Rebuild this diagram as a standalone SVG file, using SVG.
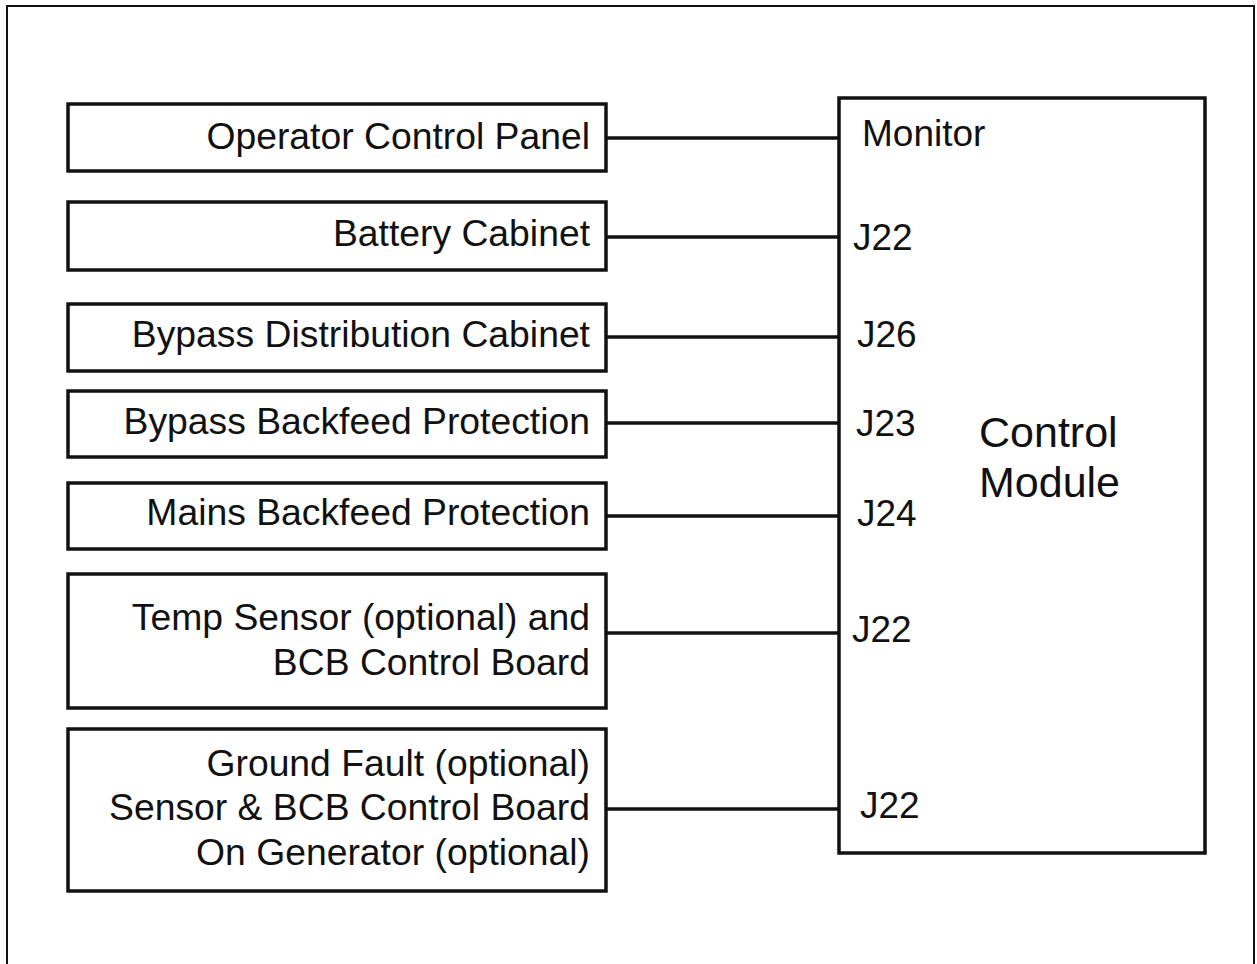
<svg xmlns="http://www.w3.org/2000/svg" width="1257" height="964" viewBox="0 0 1257 964">
<style>
.box{fill:#fff;stroke:#111;stroke-width:3.5}
.wire{stroke:#111;stroke-width:3.5;fill:none}
.t{font-family:"Liberation Sans",Arial,sans-serif;font-size:37.3px;fill:#111}
.r{text-anchor:end}
.j{font-size:37px}
.big{font-size:43px}
</style>
<rect width="1257" height="964" fill="#fff"/>
<path d="M7,970 V6 H1254 V970" fill="none" stroke="#111" stroke-width="2"/>
<g id="connectors">
<line class="wire" x1="606" y1="138" x2="838" y2="138"/>
<line class="wire" x1="606" y1="237" x2="838" y2="237"/>
<line class="wire" x1="606" y1="337" x2="838" y2="337"/>
<line class="wire" x1="606" y1="423" x2="838" y2="423"/>
<line class="wire" x1="606" y1="516" x2="838" y2="516"/>
<line class="wire" x1="606" y1="633" x2="838" y2="633"/>
<line class="wire" x1="606" y1="809" x2="838" y2="809"/>
</g>
<g id="control-module">
<rect class="box" x="839" y="98" width="366" height="755"/>
<text class="t j" x="862" y="146">Monitor</text>
<text class="t j" x="853" y="250">J22</text>
<text class="t j" x="857" y="347">J26</text>
<text class="t j" x="856" y="436">J23</text>
<text class="t j" x="857" y="526">J24</text>
<text class="t j" x="852" y="642">J22</text>
<text class="t j" x="860" y="818">J22</text>
<text class="t big" x="979" y="447">Control</text>
<text class="t big" x="979" y="497">Module</text>
</g>
<g id="operator-control-panel">
<rect class="box" x="68" y="104" width="538" height="67"/>
<text class="t r" x="590" y="149">Operator Control Panel</text>
</g>
<g id="battery-cabinet">
<rect class="box" x="68" y="202" width="538" height="68"/>
<text class="t r" x="590" y="246">Battery Cabinet</text>
</g>
<g id="bypass-distribution-cabinet">
<rect class="box" x="68" y="304" width="538" height="67"/>
<text class="t r" x="590" y="347">Bypass Distribution Cabinet</text>
</g>
<g id="bypass-backfeed-protection">
<rect class="box" x="68" y="391" width="538" height="66"/>
<text class="t r" x="590" y="434">Bypass Backfeed Protection</text>
</g>
<g id="mains-backfeed-protection">
<rect class="box" x="68" y="483" width="538" height="66"/>
<text class="t r" x="590" y="525">Mains Backfeed Protection</text>
</g>
<g id="temp-sensor">
<rect class="box" x="68" y="574" width="538" height="134"/>
<text class="t r" x="590" y="630">Temp Sensor (optional) and</text>
<text class="t r" x="590" y="675">BCB Control Board</text>
</g>
<g id="ground-fault">
<rect class="box" x="68" y="729" width="538" height="162"/>
<text class="t r" x="590" y="776">Ground Fault (optional)</text>
<text class="t r" x="590" y="820">Sensor &amp; BCB Control Board</text>
<text class="t r" x="590" y="865">On Generator (optional)</text>
</g>
</svg>
